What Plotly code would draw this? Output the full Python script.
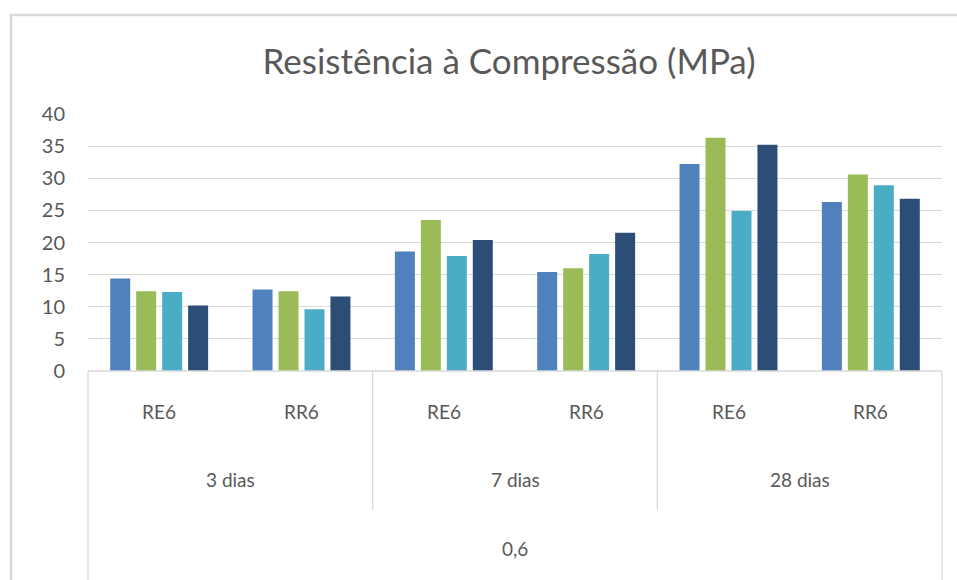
import plotly.graph_objects as go

# Compressive strength (MPa) per age and mix, four specimens each
idades = ["3 dias", "3 dias", "7 dias", "7 dias", "28 dias", "28 dias"]
tracos = ["RE6", "RR6", "RE6", "RR6", "RE6", "RR6"]
relacao = "0,6"

serie_1 = [14.4, 12.7, 18.6, 15.4, 32.2, 26.3]
serie_2 = [12.4, 12.4, 23.5, 16.0, 36.3, 30.6]
serie_3 = [12.3, 9.6, 17.9, 18.2, 24.9, 28.9]
serie_4 = [10.2, 11.6, 20.4, 21.5, 35.2, 26.8]

y_ticks = [0, 5, 10, 15, 20, 25, 30, 35, 40]

cores = ["#4F81BD", "#9BBB59", "#4BACC6", "#2C4D75"]
nomes = ["Série 1", "Série 2", "Série 3", "Série 4"]

categorias = [f"{d} | {t}" for d, t in zip(idades, tracos)]

W, H = 957, 580
M_L, M_R, M_T, M_B = 88, 15, 114, 209
plot_w = W - M_L - M_R
plot_h = H - M_T - M_B
y_max = 40


def py(px):
    """Paper y coordinate for a pixel row of the page."""
    return (H - M_B - px) / plot_h


def pxx(px):
    """Paper x coordinate for a pixel column of the page."""
    return (px - M_L) / plot_w


FONT = "Lato"
TXT = "#595959"
GRID = "#D9D9D9"

fig = go.Figure()
for nome, cor, vals in zip(nomes, cores, [serie_1, serie_2, serie_3, serie_4]):
    fig.add_trace(go.Bar(x=categorias, y=vals, name=nome, marker_color=cor,
                         marker_line_width=0))

n_cat = len(categorias)
shapes = []
# baseline of the category axis
shapes.append(dict(type="line", xref="paper", yref="paper", x0=0, x1=1, y0=0, y1=0,
                   line=dict(color=GRID, width=1.3), layer="above"))
# outer dividers reach the bottom level, inner ones stop above it
for x in (0, 1):
    shapes.append(dict(type="line", xref="paper", yref="paper", x0=x, x1=x, y0=0,
                       y1=py(H + 5), line=dict(color=GRID, width=1.3)))
for k in (2, 4):
    shapes.append(dict(type="line", xref="paper", yref="paper", x0=k / n_cat, x1=k / n_cat,
                       y0=0, y1=py(510), line=dict(color=GRID, width=1.3)))
# chart frame
shapes.append(dict(type="rect", xref="paper", yref="paper",
                   x0=pxx(11), x1=1.2, y0=-1.0, y1=py(15),
                   line=dict(color=GRID, width=2.5), fillcolor="rgba(0,0,0,0)"))

lbl_font = dict(family=FONT, size=19, color=TXT)
annotations = []


def label(x, y, text):
    annotations.append(dict(x=x, y=y, xref="paper", yref="paper", text=text,
                            xanchor="center", yanchor="middle",
                            showarrow=False, font=lbl_font))


for i, t in enumerate(tracos):
    label((i + 0.5) / n_cat, py(412), t)
for i, d in enumerate(["3 dias", "7 dias", "28 dias"]):
    label((2 * i + 1) / n_cat, py(479), d)
label(0.5, py(548), relacao)

fig.update_layout(
    width=W, height=H,
    margin=dict(l=M_L, r=M_R, t=M_T, b=M_B),
    paper_bgcolor="white", plot_bgcolor="white",
    showlegend=False,
    barmode="group", bargap=0.27, bargroupgap=0.23,
    title=dict(text="Resistência à Compressão (MPa)", x=pxx(509),
               xref="paper", xanchor="center", y=1 - 62 / H, yanchor="middle",
               font=dict(family=FONT, size=35, color=TXT)),
    xaxis=dict(type="category", range=[-0.5, 5.5], showticklabels=False,
               showgrid=False, zeroline=False, showline=False, ticks=""),
    yaxis=dict(range=[0, y_max], tickvals=y_ticks, showgrid=True, gridcolor=GRID,
               gridwidth=1.3, zeroline=False, showline=False, ticks="",
               ticklabelstandoff=22,
               tickfont=dict(family=FONT, size=20, color=TXT)),
    shapes=shapes,
    annotations=annotations,
)

fig.write_html("out.html")
